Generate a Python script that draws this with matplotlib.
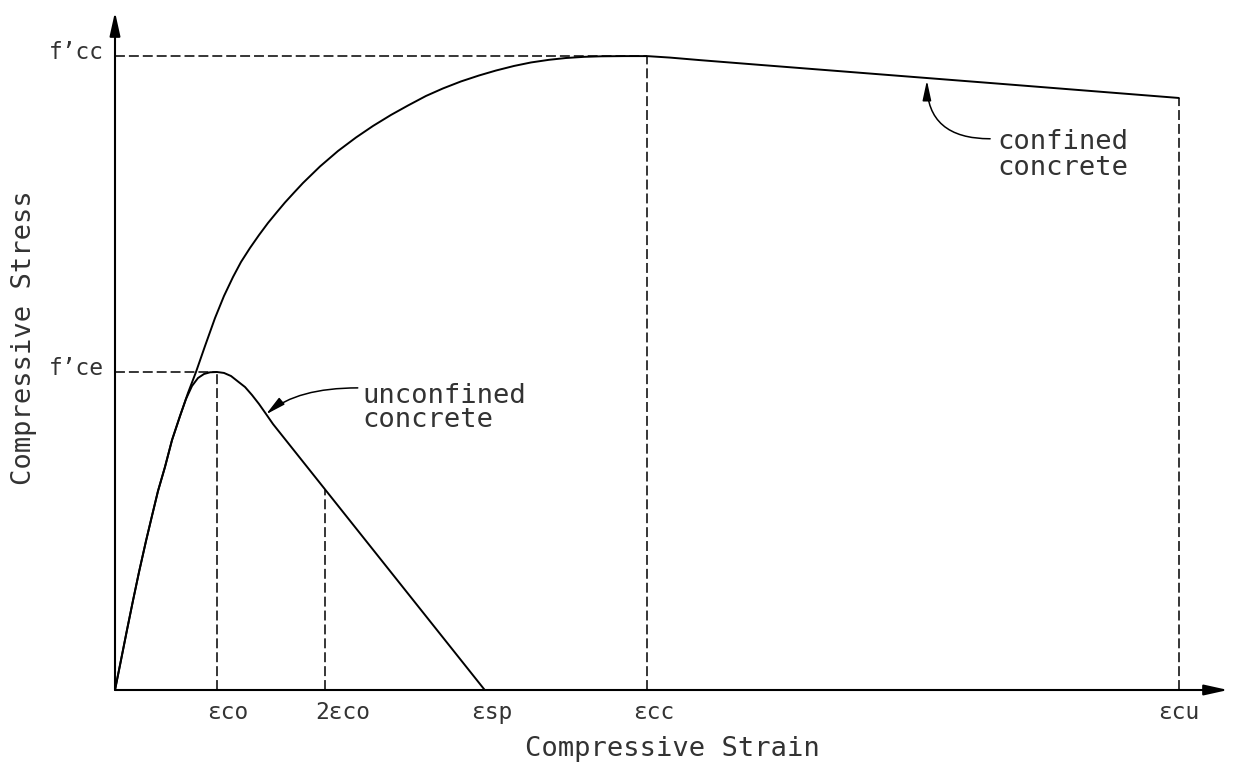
import matplotlib
matplotlib.use("Agg")
import matplotlib.pyplot as plt

# ---------------- data ----------------
# characteristic strains
eps_co = 0.00200
eps_2co = 0.00412
eps_sp = 0.00725
eps_cc = 0.01043
eps_cu = 0.02086
x_tick_vals = [eps_co, eps_2co, eps_sp, eps_cc, eps_cu]
x_tick_labels = ["\u03b5co", "2\u03b5co", "\u03b5sp", "\u03b5cc", "\u03b5cu"]

# characteristic stresses
f_ce = 30.0
f_cc = 59.8
y_tick_vals = [f_cc, f_ce]
y_tick_labels = ["f\u2019cc", "f\u2019ce"]

# confined concrete curve
conf_strain = [0.0, 0.000118, 0.000235, 0.000353, 0.000471, 0.000608, 0.000725,
               0.000843, 0.00098, 0.001118, 0.001275, 0.001431, 0.001588,
               0.001765, 0.001961, 0.002137, 0.002314, 0.002471, 0.002647,
               0.002824, 0.003000, 0.003176, 0.003333, 0.003510, 0.003686,
               0.004020, 0.004373, 0.004725, 0.005059, 0.005412, 0.005745,
               0.006098, 0.006431, 0.006784, 0.007137, 0.007471, 0.007824,
               0.008157, 0.008510, 0.008843, 0.009196, 0.009529, 0.009980,
               0.010430, 0.010882, 0.011470, 0.012647, 0.015000, 0.017353,
               0.020860]
conf_stress = [0.0, 2.83, 5.66, 8.44, 11.13, 14.06, 16.42,
               18.77, 21.04, 23.58, 25.85, 28.02, 30.00,
               32.45, 35.09, 37.17, 38.96, 40.38, 41.70,
               42.92, 44.06, 45.09, 45.99, 46.92, 47.83,
               49.39, 50.85, 52.12, 53.21, 54.25, 55.14,
               56.04, 56.75, 57.41, 57.97, 58.44, 58.87,
               59.20, 59.45, 59.62, 59.73, 59.78, 59.80,
               59.80, 59.66, 59.42, 58.97, 58.08, 57.19,
               55.85]

# unconfined concrete curve
unconf_strain = [0.0, 0.000118, 0.000235, 0.000353, 0.000471, 0.000608,
                 0.000725, 0.000843, 0.00098, 0.001118, 0.001275, 0.001392,
                 0.001510, 0.001627, 0.001745, 0.001863, 0.002000, 0.002137,
                 0.002275, 0.002412, 0.002550, 0.002686, 0.002824, 0.002961,
                 0.003098, 0.007250]
unconf_stress = [0.0, 2.83, 5.66, 8.44, 11.13, 14.06,
                 16.42, 18.77, 21.04, 23.58, 25.85, 27.45,
                 28.68, 29.43, 29.81, 29.97, 30.00, 29.91,
                 29.62, 29.10, 28.58, 27.83, 26.98, 26.04,
                 25.09, 0.0]
stress_at_2co = 18.9
stress_at_cu = 55.85

# ---------------- figure ----------------
W, H = 1236, 763
fig = plt.figure(figsize=(W / 100, H / 100), dpi=100)
ax = fig.add_axes([115 / W, 73 / H, (1228 - 115) / W, (690 - 12) / H])
ax.set_xlim(0, 0.021824)
ax.set_ylim(0, 63.96)
for s in ax.spines.values():
    s.set_visible(False)
ax.set_xticks([])
ax.set_yticks([])

txt_col = "#333333"
mono = ["DejaVu Sans Mono"]

# axes with arrows
arrow_ax = dict(arrowstyle="-|>,head_length=0.72,head_width=0.16",
                mutation_scale=20, color="black", lw=1.5,
                shrinkA=0, shrinkB=0)
ax.annotate("", xy=(1, 0), xytext=(0, 0), xycoords="axes fraction",
            textcoords="axes fraction", arrowprops=arrow_ax)
ax.annotate("", xy=(0, 1), xytext=(0, 0), xycoords="axes fraction",
            textcoords="axes fraction", arrowprops=arrow_ax)

# dashed guide lines
dash_kw = dict(color="black", lw=1.1, dashes=(6.5, 2.6))
ax.plot([0, eps_cc], [f_cc, f_cc], **dash_kw)
ax.plot([0, eps_co], [f_ce, f_ce], **dash_kw)
ax.plot([eps_co, eps_co], [0, f_ce], **dash_kw)
ax.plot([eps_2co, eps_2co], [0, stress_at_2co], **dash_kw)
ax.plot([eps_cc, eps_cc], [0, f_cc], **dash_kw)
ax.plot([eps_cu, eps_cu], [0, stress_at_cu], **dash_kw)

# curves
ax.plot(conf_strain, conf_stress, color="black", lw=1.4,
        solid_joinstyle="round", solid_capstyle="round")
ax.plot(unconf_strain, unconf_stress, color="black", lw=1.4,
        solid_joinstyle="round", solid_capstyle="round")

# strain labels
x_offsets_pt = [8, 13, 5, 5, 0]
for v, lab, dx in zip(x_tick_vals, x_tick_labels, x_offsets_pt):
    ax.annotate(lab, xy=(v, 0), xycoords="data", xytext=(dx, -21),
                textcoords="offset points", ha="center", va="baseline",
                fontsize=16.5, family=mono, color=txt_col,
                annotation_clip=False)

# stress labels
for v, lab in zip(y_tick_vals, y_tick_labels):
    ax.annotate(lab, xy=(0, v), xycoords="data", xytext=(-8, -2.2),
                textcoords="offset points", ha="right", va="baseline",
                fontsize=16.5, family=mono, color=txt_col,
                annotation_clip=False)

# axis titles
fig.text(672 / W, 1 - 756 / H, "Compressive Strain", ha="center",
         va="baseline", fontsize=19.5, family=mono, color=txt_col)
fig.text(24 / W, 1 - 338 / H, "Compressive Stress", ha="center",
         va="center", rotation=90, fontsize=19.5, family=mono, color=txt_col)

# annotations
lead = dict(arrowstyle="-|>,head_length=0.6,head_width=0.13",
            mutation_scale=20, color="black", lw=1.1,
            shrinkA=0, shrinkB=0)
ax.text(0.00486, 27.08, "unconfined", fontsize=19.5, family=mono,
        color=txt_col, ha="left", va="baseline")
ax.text(0.00486, 24.8, "concrete", fontsize=19.5, family=mono,
        color=txt_col, ha="left", va="baseline")
ax.annotate("", xy=(0.00296, 26.0), xytext=(0.00476, 28.5),
            arrowprops=dict(connectionstyle="angle3,angleA=0,angleB=40",
                            **lead))

ax.text(0.01731, 51.0, "confined", fontsize=19.5, family=mono,
        color=txt_col, ha="left", va="baseline")
ax.text(0.01731, 48.6, "concrete", fontsize=19.5, family=mono,
        color=txt_col, ha="left", va="baseline")
ax.annotate("", xy=(0.01592, 57.5), xytext=(0.01716, 52.0),
            arrowprops=dict(connectionstyle="angle3,angleA=0,angleB=90",
                            **lead))

fig.savefig("out.png", dpi=100)
